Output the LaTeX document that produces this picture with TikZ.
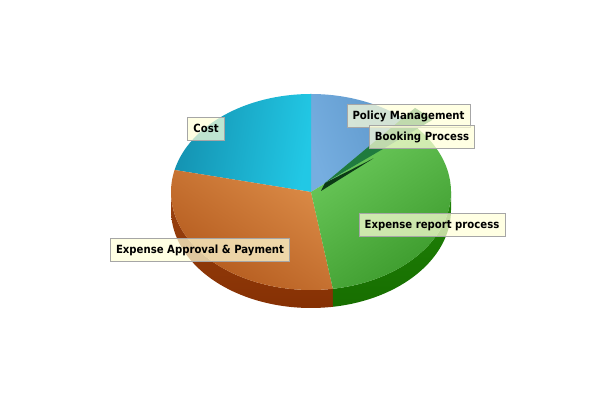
\documentclass[tikz,border=0pt]{standalone}
\usepackage{fontspec}
\usepackage{xcolor}
\newfontfamily\lblfont[FakeStretch=0.9]{DejaVu Sans}
\definecolor{lbfill}{HTML}{FFFFD8}
\definecolor{cyanlt}{HTML}{22C8E5}
\definecolor{cyandk}{HTML}{1492B1}
\definecolor{bluelt}{HTML}{76AEE0}
\definecolor{bluedk}{HTML}{5A94C8}
\definecolor{orglt}{HTML}{DA8A46}
\definecolor{orgdk}{HTML}{B0561A}
\definecolor{grnlt}{HTML}{6CCA5C}
\definecolor{grndk}{HTML}{3A982A}
\definecolor{orgside}{HTML}{9A4210}
\definecolor{orgsidedk}{HTML}{853003}
\definecolor{grnside}{HTML}{1F8208}
\definecolor{grnsidedk}{HTML}{176E00}
\definecolor{bookgrn}{HTML}{1F7B3E}
\definecolor{bookside}{HTML}{0C3A16}

\begin{document}
\begin{tikzpicture}[x=0.025cm,y=0.025cm]
\useasboundingbox (0,0) rectangle (600,400);
\coordinate (c) at (311,208);
\coordinate (cb) at (325,217);
% side walls
\shade[top color=orgside, bottom color=orgsidedk]
  ([shift={(180:140 and 98)}]c) arc[start angle=180, end angle=279, x radius=140, y radius=98]
  -- ++(0,-18) arc[start angle=279, end angle=180, x radius=140, y radius=98] -- cycle;
\shade[top color=grnside, bottom color=grnsidedk]
  ([shift={(279:140 and 98)}]c) arc[start angle=279, end angle=360, x radius=140, y radius=98]
  -- ++(0,-18) arc[start angle=360, end angle=279, x radius=140, y radius=98] -- cycle;
% top of the slices
\foreach \a/\b/\lc/\dc/\ang in {41/90/bluedk/bluelt/-70, 90/167/cyandk/cyanlt/80,
    167/279/orglt/orgdk/-35, -81/41/grnlt/grndk/35}{
  \shade[top color=\lc, bottom color=\dc, shading angle=\ang]
    (c) -- ++(\a:140 and 98) arc[start angle=\a, end angle=\b, x radius=140, y radius=98] -- cycle;
}
% booking slice, pulled out
\fill[bookside] (cb) -- ([shift={(36:60 and 42)}]cb) -- ([shift={(-4,-8)}]cb) -- cycle;
\fill[bookgrn] (cb) -- ++(40:140 and 98) arc[start angle=40, end angle=50, x radius=140, y radius=98] -- cycle;
% labels
\tikzstyle{lbl}=[draw=black!35, fill=lbfill, fill opacity=0.72, text opacity=1,
                 inner xsep=4pt, inner ysep=4.2pt, text height=6.3pt, text depth=2pt,
                 font=\lblfont\bfseries\fontsize{8}{9}\selectfont]
\node[lbl] (policy) at (408.5,284){Policy Management};
\node[lbl] (booking) at (422,263){Booking Process};
\node[lbl] (cost) at (206,271){Cost};
\node[lbl] (approval) at (200,150){Expense Approval \& Payment};
\node[lbl] (report) at (432,175){Expense report process};
\end{tikzpicture}
\end{document}
